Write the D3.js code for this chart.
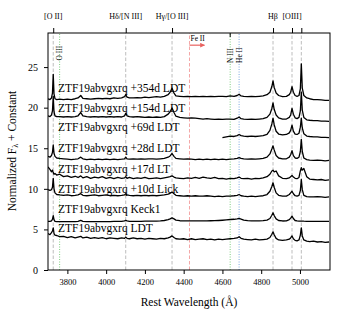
<!DOCTYPE html>
<html>
<head>
<meta charset="utf-8">
<script src="https://cdn.jsdelivr.net/npm/d3@7"></script>
<style>
  body { margin: 0; background: #fff; }
  text { font-family: "Liberation Serif", "DejaVu Serif", serif; fill: #000; }
</style>
</head>
<body>
<div id="content"></div>
<script>
var width = 345;
var height = 318;
var margin = {top: 33, right: 15, bottom: 48, left: 48};

// shared wavelength grid (Angstrom)
var wave = [
  3700,3710,3718,3723,3727,3731,3736,3745,3760,3780,
  3800,3820,3840,3855,3869,3880,3900,3920,3940,3960,
  3980,4000,4020,4040,4060,4080,4095,4101,4108,4120,
  4140,4160,4180,4200,4220,4240,4260,4280,4300,4320,
  4330,4340,4350,4360,4380,4400,4420,4440,4460,4480,
  4500,4520,4540,4560,4580,4600,4620,4640,4660,4676,
  4686,4696,4710,4730,4750,4770,4790,4810,4830,4845,
  4855,4861,4867,4877,4890,4910,4930,4945,4952,4959,
  4966,4975,4985,4995,5002,5007,5012,5020,5035,5050,
  5070,5090,5110,5130,5150
];

// normalized flux + constant
var fluxLDT = [
  4.5,4.35,4.6,4.8,5.2,4.5,4.3,4.25,4.1,4.15,
  4.0,4.1,3.95,4.05,4.15,3.95,4.05,3.9,4.0,3.9,
  4.0,3.85,3.95,3.9,3.85,3.95,3.9,4.05,3.9,3.85,
  3.95,3.85,3.9,3.8,3.9,3.85,3.8,3.9,3.85,3.95,
  4.05,4.2,4.0,3.85,3.8,3.85,3.75,3.85,3.75,3.8,
  3.85,3.75,3.8,3.7,3.8,3.75,3.8,3.85,3.9,3.95,
  4.1,3.9,3.8,3.75,3.7,3.8,3.7,3.75,3.8,4.0,
  4.4,4.7,4.35,3.9,3.7,3.65,3.7,3.8,3.95,4.2,
  3.85,3.65,3.6,3.7,4.3,5.2,4.2,3.7,3.55,3.5,
  3.55,3.45,3.5,3.4,3.45
];
var fluxKeck = [
  6.0,5.98,6.05,6.25,6.7,6.2,6.0,5.97,5.96,5.95,
  5.95,5.95,5.96,6.0,6.12,6.0,5.96,5.95,5.95,5.96,
  5.96,5.97,5.97,5.98,5.98,6.0,6.05,6.12,6.05,6.0,
  6.0,6.0,6.0,6.01,6.01,6.02,6.03,6.05,6.1,6.2,
  6.3,6.42,6.3,6.15,6.07,6.05,6.05,6.05,6.05,6.05,
  6.06,6.06,6.07,6.08,6.1,6.13,6.17,6.22,6.25,6.3,
  6.35,6.28,6.15,6.08,6.05,6.05,6.06,6.08,6.15,6.35,
  6.75,7.05,6.7,6.3,6.1,6.04,6.05,6.2,6.4,6.65,
  6.35,6.1,6.05,6.03,6.02,6.02,6.02,6.01,6.0,6.0,
  6.0,6.0,6.0,6.0,6.0
];
var flux10d = [
  9.9,9.8,9.9,10.2,11.3,10.0,9.5,9.3,9.25,9.2,
  9.25,9.15,9.2,9.25,9.4,9.2,9.15,9.2,9.25,9.15,
  9.2,9.25,9.15,9.2,9.15,9.2,9.25,9.4,9.25,9.2,
  9.15,9.2,9.15,9.2,9.15,9.2,9.15,9.2,9.25,9.35,
  9.45,9.6,9.4,9.2,9.15,9.1,9.15,9.1,9.15,9.1,
  9.1,9.15,9.1,9.05,9.1,9.05,9.1,9.1,9.15,9.2,
  9.3,9.15,9.1,9.05,9.1,9.05,9.1,9.15,9.3,9.7,
  10.3,10.75,10.2,9.5,9.2,9.1,9.1,9.3,9.5,9.7,
  9.4,9.15,9.1,9.2,9.8,11.15,9.9,9.2,9.05,9.0,
  9.0,9.05,9.0,8.95,9.0
];
var flux17d = [
  12.7,12.4,12.1,12.3,12.0,11.8,11.9,11.7,11.8,11.5,
  11.6,11.4,11.55,11.4,11.6,11.35,11.5,11.3,11.45,11.35,
  11.5,11.3,11.4,11.25,11.4,11.3,11.35,11.5,11.3,11.4,
  11.25,11.35,11.3,11.4,11.25,11.3,11.35,11.25,11.35,11.45,
  11.5,11.6,11.45,11.35,11.3,11.25,11.35,11.3,11.4,11.3,
  11.45,11.35,11.3,11.4,11.25,11.3,11.2,11.3,11.25,11.35,
  11.45,11.3,11.25,11.3,11.2,11.3,11.25,11.35,11.5,11.8,
  12.2,12.3,12.1,12.2,11.6,11.3,11.25,11.35,11.5,11.65,
  11.45,11.3,11.25,11.4,12.2,12.6,12.3,12.5,11.5,11.2,
  11.15,11.1,11.15,11.05,11.1
];
var flux28d = [
  14.0,13.9,14.1,14.5,15.4,14.4,14.0,13.8,13.75,13.7,
  13.65,13.6,13.65,13.7,13.9,13.7,13.6,13.65,13.6,13.65,
  13.6,13.65,13.6,13.65,13.6,13.65,13.7,13.9,13.7,13.65,
  13.7,13.65,13.7,13.65,13.7,13.7,13.65,13.7,13.75,13.9,
  14.05,14.35,14.0,13.75,13.7,13.65,13.7,13.65,13.6,13.65,
  13.6,13.65,13.6,13.65,13.6,13.65,13.6,13.65,13.7,13.75,
  13.85,13.75,13.7,13.65,13.7,13.65,13.7,13.75,13.9,14.3,
  14.9,15.3,14.8,14.1,13.8,13.7,13.7,13.9,14.2,14.7,
  14.1,13.8,13.75,13.9,14.6,16.1,14.6,13.8,13.6,13.55,
  13.5,13.55,13.5,13.45,13.5
];
var flux69d = [
  null,null,null,null,null,null,null,null,null,null,
  null,null,null,null,null,null,null,null,null,null,
  null,null,null,null,null,null,null,null,null,null,
  null,null,null,null,null,null,null,null,null,null,
  null,null,null,null,null,null,null,null,null,null,
  null,null,null,null,null,16.3,16.4,16.5,16.45,16.55,
  16.7,16.55,16.5,16.45,16.5,16.45,16.5,16.55,16.7,17.2,
  18.0,18.7,17.9,17.1,16.75,16.65,16.7,16.9,17.2,17.85,
  17.1,16.75,16.7,16.85,17.6,18.7,17.5,16.8,16.5,16.45,
  16.4,16.4,16.35,16.35,16.3
];
var flux154d = [
  19.0,18.9,19.1,19.6,21.4,19.5,19.0,18.9,18.9,18.85,
  18.9,18.85,18.9,19.0,19.4,19.0,18.9,18.85,18.9,18.85,
  18.9,18.85,18.9,18.85,18.9,18.85,19.0,19.3,19.0,18.9,
  18.85,18.9,18.85,18.8,18.85,18.8,18.85,18.8,18.9,19.2,
  19.5,19.95,19.4,18.95,18.8,18.75,18.7,18.75,18.7,18.65,
  18.6,18.65,18.6,18.55,18.6,18.55,18.6,18.6,18.55,18.7,
  18.85,18.65,18.6,18.55,18.6,18.55,18.6,18.65,18.8,19.2,
  19.9,20.6,19.8,19.1,18.75,18.6,18.6,18.8,19.1,19.9,
  19.2,18.75,18.65,18.8,19.6,21.9,19.7,18.8,18.5,18.45,
  18.4,18.4,18.35,18.35,18.3
];
var flux354d = [
  21.1,21.0,21.2,21.8,24.1,21.7,21.1,21.0,21.05,21.0,
  21.05,21.0,21.1,21.2,21.5,21.15,21.1,21.05,21.1,21.15,
  21.1,21.15,21.1,21.2,21.15,21.2,21.35,21.6,21.3,21.2,
  21.2,21.25,21.2,21.3,21.25,21.3,21.35,21.3,21.4,21.6,
  21.9,22.4,21.8,21.45,21.4,21.35,21.4,21.35,21.4,21.35,
  21.4,21.35,21.4,21.35,21.4,21.4,21.35,21.45,21.4,21.5,
  21.65,21.45,21.4,21.35,21.4,21.35,21.4,21.45,21.6,21.9,
  22.6,23.3,22.5,21.8,21.5,21.35,21.4,21.6,21.9,22.6,
  21.9,21.5,21.4,21.5,22.3,25.4,22.4,21.5,21.2,21.1,
  21.0,21.0,20.95,20.9,20.9
];

var spectra = [fluxLDT, fluxKeck, flux10d, flux17d, flux28d, flux69d, flux154d, flux354d];
var spectrumLabels = ['ZTF19abvgxrq LDT', 'ZTF19abvgxrq Keck1', 'ZTF19abvgxrq +10d Lick',
                      'ZTF19abvgxrq +17d LT', 'ZTF19abvgxrq +28d LDT', 'ZTF19abvgxrq +69d LDT',
                      'ZTF19abvgxrq +154d LDT', 'ZTF19abvgxrq +354d LDT'];
var labelLevels = [4.7, 7.0, 9.5, 11.9, 14.5, 17.1, 19.5, 21.9];

// marked lines
var grayLines = [3727, 4101, 4340, 4861, 4959, 5007];
var topLabels = ['[O II]', 'H\u03B4/[N III]', 'H\u03B3/[O III]', 'H\u03B2', '[OIII]'];
var topLabelWaves = [3727, 4101, 4340, 4861, 4959];
var dottedLines = [3760, 4640, 4686];
var dottedColors = ['#7fcf7f', '#7fcf7f', '#7fa8df'];
var dottedNames = ['O III', 'N III', 'He II'];
var feLine = 4430;

var yTicks = [0, 5, 10, 15, 20, 25];
var xTicks = [3800, 4000, 4200, 4400, 4600, 4800, 5000];

var svg = d3.select('div#content').append('svg')
    .attr('width', width)
    .attr('height', height);

var x = d3.scaleLinear()
    .domain([3700, 5155])
    .range([margin.left, width - margin.right]);
var y = d3.scaleLinear()
    .domain([0, 29.2])
    .range([height - margin.bottom, margin.top]);

svg.append('defs').append('clipPath').attr('id', 'plotClip')
  .append('rect')
    .attr('x', margin.left).attr('y', margin.top)
    .attr('width', x.range()[1] - x.range()[0])
    .attr('height', y.range()[0] - y.range()[1]);

var plot = svg.append('g').attr('clip-path', 'url(#plotClip)');

// reference lines
plot.selectAll('line.gray')
    .data(grayLines).enter()
    .append('line')
        .attr('x1', function(d){ return x(d); })
        .attr('x2', function(d){ return x(d); })
        .attr('y1', y.range()[0]).attr('y2', y.range()[1])
        .attr('stroke', '#bdbdbd')
        .attr('stroke-width', 1)
        .attr('stroke-dasharray', '3.5,2');

plot.selectAll('line.dotted')
    .data(dottedLines).enter()
    .append('line')
        .attr('x1', function(d){ return x(d); })
        .attr('x2', function(d){ return x(d); })
        .attr('y1', y.range()[0]).attr('y2', y.range()[1])
        .attr('stroke', function(d, i){ return dottedColors[i]; })
        .attr('stroke-width', 1)
        .attr('stroke-dasharray', '1,1.5');

plot.append('line')
    .attr('x1', x(feLine)).attr('x2', x(feLine))
    .attr('y1', y.range()[0]).attr('y2', y.range()[1])
    .attr('stroke', '#f4a6a6')
    .attr('stroke-width', 1)
    .attr('stroke-dasharray', '3.5,2');

// spectra
var line = d3.line()
    .defined(function(d){ return d != null; })
    .x(function(d, i){ return x(wave[i]); })
    .y(function(d){ return y(d); });

plot.selectAll('path.spec')
    .data(spectra).enter()
    .append('path')
        .attr('class', 'spec')
        .attr('d', line)
        .attr('fill', 'none')
        .attr('stroke', '#000')
        .attr('stroke-width', 1.3)
        .attr('stroke-linejoin', 'round');

svg.selectAll('text.speclabel')
    .data(spectrumLabels).enter()
    .append('text')
        .attr('class', 'speclabel')
        .attr('x', x(3700) + 10)
        .attr('y', function(d, i){ return y(labelLevels[i]); })
        .attr('font-size', '11.5px')
        .text(function(d){ return d; });

// Fe II arrow
svg.append('defs').append('marker')
    .attr('id', 'arrowHead')
    .attr('viewBox', '0 0 10 10')
    .attr('refX', 9).attr('refY', 5)
    .attr('markerWidth', 4).attr('markerHeight', 4)
    .attr('orient', 'auto')
  .append('path')
    .attr('d', 'M0,0L10,5L0,10z')
    .attr('fill', '#e8615f');
svg.append('line')
    .attr('x1', x(feLine)).attr('x2', x(feLine) + 15)
    .attr('y1', y(27.7)).attr('y2', y(27.7))
    .attr('stroke', '#e8615f')
    .attr('stroke-width', 1.2)
    .attr('marker-end', 'url(#arrowHead)');
svg.append('text')
    .attr('x', x(feLine) + 1)
    .attr('y', y(28.2))
    .attr('font-size', '7.5px')
    .text('Fe II');

// rotated line names
svg.selectAll('text.vname')
    .data(dottedNames).enter()
    .append('text')
        .attr('class', 'vname')
        .attr('transform', function(d, i){
            var bottom = i === 0 ? y(25.8) : y(25.5);
            return 'translate(' + (x(dottedLines[i]) + 2.5) + ',' + bottom + ') rotate(-90)';
        })
        .attr('font-size', '7.5px')
        .text(function(d){ return d; });

// frame
svg.append('rect')
    .attr('x', margin.left).attr('y', margin.top)
    .attr('width', x.range()[1] - x.range()[0])
    .attr('height', y.range()[0] - y.range()[1])
    .attr('fill', 'none')
    .attr('stroke', '#000')
    .attr('stroke-width', 1);

// axes
var xAxis = svg.append('g')
    .attr('transform', 'translate(0,' + y.range()[0] + ')')
    .call(d3.axisBottom(x).tickValues(xTicks).tickSize(4).tickPadding(5).tickFormat(d3.format('d')));
xAxis.select('.domain').remove();
xAxis.selectAll('text').attr('font-size', '8.5px').attr('font-family', '"Liberation Serif", serif');

var yAxis = svg.append('g')
    .attr('transform', 'translate(' + margin.left + ',0)')
    .call(d3.axisLeft(y).tickValues(yTicks).tickSize(4).tickPadding(6));
yAxis.select('.domain').remove();
yAxis.selectAll('text').attr('font-size', '10px').attr('font-family', '"Liberation Serif", serif');

// top line ticks and labels
var topTicks = svg.append('g')
    .attr('transform', 'translate(0,' + margin.top + ')')
    .call(d3.axisTop(x).tickValues(grayLines).tickSize(5).tickFormat(''));
topTicks.select('.domain').remove();
svg.append('line')
    .attr('x1', x(4640)).attr('x2', x(4640))
    .attr('y1', margin.top).attr('y2', margin.top + 4)
    .attr('stroke', '#000');

svg.selectAll('text.toplabel')
    .data(topLabels).enter()
    .append('text')
        .attr('class', 'toplabel')
        .attr('x', function(d, i){ return x(topLabelWaves[i]); })
        .attr('y', 19)
        .attr('text-anchor', 'middle')
        .attr('font-size', '8px')
        .text(function(d){ return d; });

// axis titles
svg.append('text')
    .attr('x', (x.range()[0] + x.range()[1]) / 2)
    .attr('y', 306)
    .attr('text-anchor', 'middle')
    .attr('font-size', '11.5px')
    .text('Rest Wavelength (\u00C5)');

var yTitle = svg.append('text')
    .attr('transform', 'translate(16,151) rotate(-90)')
    .attr('text-anchor', 'middle')
    .attr('font-size', '11.5px')
    .text('Normalized F');
yTitle.append('tspan').attr('font-size', '8px').attr('dy', 2).text('\u03BB');
yTitle.append('tspan').attr('dy', -2).text(' + Constant');
</script>
</body>
</html>
